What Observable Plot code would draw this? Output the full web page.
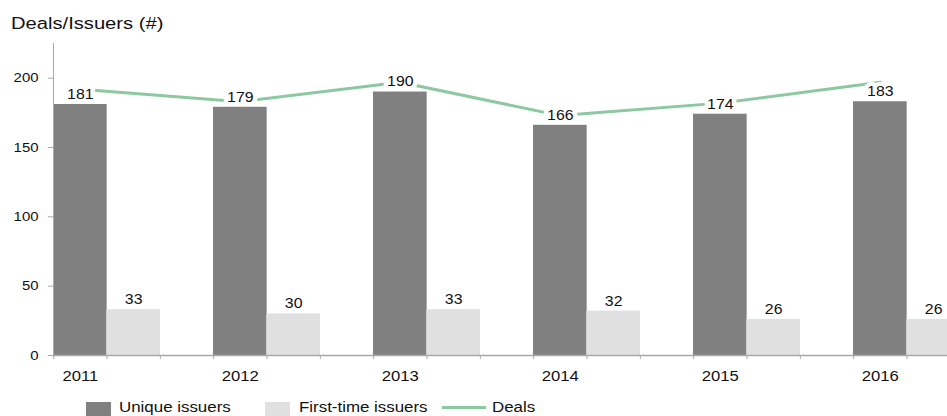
<!DOCTYPE html>
<html><head><meta charset="utf-8">
<script src="https://cdn.jsdelivr.net/npm/d3@7"></script>
<script src="https://cdn.jsdelivr.net/npm/@observablehq/plot@0.6"></script>
<style>
html,body{margin:0;padding:0;background:#fff;overflow:hidden;}
#wrap{position:relative;width:947px;height:416px;overflow:hidden;font-family:"Liberation Sans",Arial,sans-serif;color:#111;}
#chart{position:absolute;left:0;top:0;}
#title{position:absolute;left:11px;top:14px;font-size:16px;line-height:20px;white-space:nowrap;transform:scaleX(1.26);transform-origin:left top;}
.lg{position:absolute;top:399px;white-space:nowrap;}
.sw{position:absolute;top:402px;}
</style></head>
<body>
<div id="wrap"><div id="chart"></div><div id="title">Deals/Issuers (#)</div><div id="legend"></div></div>
<script>
const years = ["2011","2012","2013","2014","2015","2016"];
const uniqueIssuers = [181,179,190,166,174,183];
const firstTimeIssuers = [33,30,33,32,26,26];
const deals = [192,183,197,173,182,197];
const yTicks = [0,50,100,150,200];
const seriesNames = ["Unique issuers","First-time issuers","Deals"];
const seriesColors = ["#808080","#e0e0e0","#8cc9a0"];

const rows = years.map((year,i)=>({year, unique:uniqueIssuers[i], first:firstTimeIssuers[i], deals:deals[i]}));

const W=947, H=416, xLeft=53, xRight=960, padIn=1/3;
const step=(xRight-xLeft)/(years.length-padIn);
const bw=step*(1-padIn), half=bw/2, quarter=bw/4;
const axisGray="#a8a8a8";

const chart = Plot.plot({
  width:W, height:H, marginTop:43, marginBottom:61, marginLeft:xLeft, marginRight:0,
  style:{fontFamily:"'Liberation Sans', Arial, sans-serif", background:"white", color:"#111", overflow:"hidden"},
  x:{type:"band", domain:years, range:[xLeft,xRight], paddingInner:padIn, paddingOuter:0, align:0},
  y:{domain:[0,225]},
  marks:[
    Plot.barY(rows,{x:"year", y:"unique", fill:seriesColors[0], insetRight:half}),
    Plot.barY(rows,{x:"year", y:"first", fill:seriesColors[1], insetLeft:half}),
    Plot.ruleY([0],{stroke:axisGray, strokeWidth:1.5}),
    Plot.frame({anchor:"left", stroke:axisGray}),
    Plot.axisY({ticks:yTicks, tickSize:5, tickPadding:10, fontSize:13, stroke:axisGray, label:null}),
    Plot.axisX({tickSize:0, dx:-quarter, tickPadding:15, fontSize:14.5, label:null}),
    Plot.axisX({tickSize:4, dx:-half, text:null, label:null, stroke:axisGray}),
    Plot.axisX({tickSize:4, dx:0, text:null, label:null, stroke:axisGray}),
    Plot.axisX({tickSize:4, dx:half, text:null, label:null, stroke:axisGray}),
    Plot.line(rows,{x:"year", y:"deals", dx:-quarter, stroke:seriesColors[2], strokeWidth:3}),
    Plot.text(rows,{x:"year", y:"unique", dx:-quarter, dy:-10, text:d=>String(d.unique), fontSize:13.8, fill:"#111", stroke:"white", strokeWidth:8, paintOrder:"stroke"}),
    Plot.text(rows,{x:"year", y:"first", dx:quarter, dy:-10, text:d=>String(d.first), fontSize:13.8, fill:"#111"})
  ]
});
document.getElementById("chart").appendChild(chart);

// horizontally widen text, as in the reference rendering
const S=1.15;
chart.querySelectorAll("text").forEach(t=>{
  const b=t.getBBox();
  const a=getComputedStyle(t).textAnchor;
  const ox = a==="end" ? b.x+b.width : a==="middle" ? b.x+b.width/2 : b.x;
  const prev=t.getAttribute("transform")||"";
  t.setAttribute("transform", `${prev} translate(${ox},0) scale(${S},1) translate(${-ox},0)`);
});

// legend
const legend=document.getElementById("legend");
const swLeft=[86,265,442], txtLeft=[119,299,492];
seriesNames.forEach((name,i)=>{
  const sw=document.createElement("div");
  sw.className="sw";
  sw.style.left=swLeft[i]+"px";
  if(i<2){ sw.style.width="25px"; sw.style.height="14px"; sw.style.background=seriesColors[i]; }
  else { sw.style.width="44px"; sw.style.height="3px"; sw.style.top="406px"; sw.style.background=seriesColors[i]; }
  legend.appendChild(sw);
  const tx=document.createElement("div");
  tx.className="lg";
  tx.style.left=txtLeft[i]+"px";
  tx.style.fontSize="14.7px";
  tx.style.lineHeight="16px";
  tx.style.transform="scaleX(1.15)";
  tx.style.transformOrigin="left top";
  tx.textContent=name;
  legend.appendChild(tx);
});
</script>
</body></html>
